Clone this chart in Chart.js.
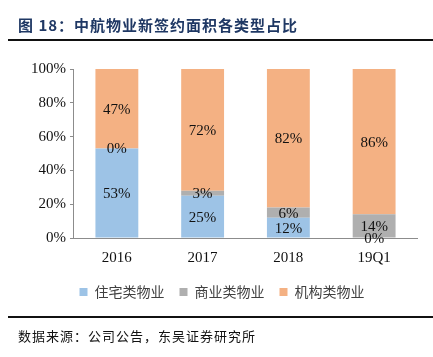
<!DOCTYPE html>
<html><head><meta charset="utf-8">
<script src="https://cdn.jsdelivr.net/npm/chart.js@4/dist/chart.umd.min.js"></script>
<style>
html,body{margin:0;padding:0;background:#fff;width:433px;height:357px;overflow:hidden;}
#title{position:absolute;left:18px;top:14px;font:bold 15px "Noto Sans CJK SC";color:#1F3864;letter-spacing:1px;}
#l1{position:absolute;left:8px;top:39px;width:425px;height:2px;background:#111;}
#l2{position:absolute;left:8px;top:316px;width:425px;height:2px;background:#111;}
#foot{position:absolute;left:18px;top:326px;font:13px "Noto Sans CJK SC";color:#111;letter-spacing:1px;}
#wrap{position:absolute;left:0;top:0;width:433px;height:357px;}
</style></head><body>
<div id="wrap"><canvas id="c" width="433" height="357"></canvas></div>
<div id="title">图 18：中航物业新签约面积各类型占比</div>
<div id="l1"></div><div id="l2"></div>
<div id="foot">数据来源：公司公告，东吴证券研究所</div>
<script>
const categories = ['2016','2017','2018','19Q1'];
const residential = [53,25,12,0];
const commercial = [0,3,6,14];
const institutional = [47,72,82,86];
const seriesNames = ['住宅类物业','商业类物业','机构类物业'];
const yTicks = [0,20,40,60,80,100];

const labelPlugin = {
  id:'segLabels',
  afterDatasetsDraw(chart){
    const ctx = chart.ctx;
    ctx.save();
    ctx.font = '15px "Liberation Serif"';
    ctx.fillStyle = '#111';
    ctx.textAlign = 'center';
    ctx.textBaseline = 'middle';
    chart.data.datasets.forEach((ds,i)=>{
      const meta = chart.getDatasetMeta(i);
      meta.data.forEach((el,j)=>{
        const y = (el.y + el.base)/2;
        ctx.fillText(ds.data[j]+'%', el.x, y+1);
      });
    });
    ctx.restore();
  }
};

new Chart(document.getElementById('c'),{
  type:'bar',
  data:{
    labels:categories,
    datasets:[
      {label:seriesNames[0],data:residential,backgroundColor:'#9DC3E6'},
      {label:seriesNames[1],data:commercial,backgroundColor:'#AFAFAF'},
      {label:seriesNames[2],data:institutional,backgroundColor:'#F4B183'}
    ]
  },
  options:{
    responsive:false,
    animation:false,
    devicePixelRatio:1,
    categoryPercentage:1,
    barPercentage:0.5,
    layout:{padding:{top:69,left:27,right:16,bottom:48}},
    plugins:{
      legend:{position:'bottom',labels:{boxWidth:8,boxHeight:8,padding:15,font:{family:'"Noto Sans CJK SC"',size:14},color:'#404040'}},
      tooltip:{enabled:false}
    },
    scales:{
      x:{stacked:true,grid:{display:false},border:{color:'#8c8c8c'},ticks:{padding:3,font:{family:'"Liberation Serif"',size:15},color:'#111'}},
      y:{stacked:true,min:0,max:100,afterBuildTicks(s){s.ticks=yTicks.map(v=>({value:v}));},
        grid:{drawOnChartArea:false,tickLength:4,color:'#8c8c8c'},border:{color:'#8c8c8c'},
        ticks:{callback:v=>v+'%',font:{family:'"Liberation Serif"',size:15},color:'#111',padding:4}}
    }
  },
  plugins:[labelPlugin]
});
</script>
</body></html>
